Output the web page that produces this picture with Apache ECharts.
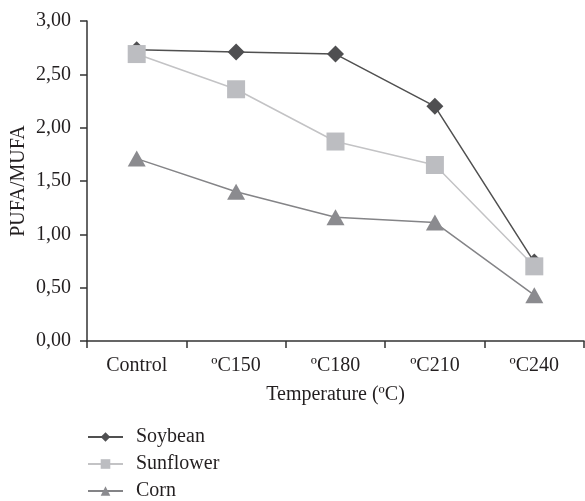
<!doctype html>
<html>
<head>
  <meta charset="utf-8">
  <title>PUFA/MUFA</title>
  <script src="https://cdn.jsdelivr.net/npm/echarts@6/dist/echarts.min.js"></script>
  <style>
    html, body { margin: 0; padding: 0; background: #fff; }
    #main { width: 585px; height: 501px; }
  </style>
</head>
<body>
<div id="main"></div>
<script type="text/javascript">
  var categories = ['Control', 'ºC150', 'ºC180', 'ºC210', 'ºC240'];
  var soybean = [2.73, 2.71, 2.69, 2.20, 0.74];
  var sunflower = [2.69, 2.36, 1.87, 1.65, 0.70];
  var corn = [1.71, 1.40, 1.16, 1.11, 0.43];

  var font = 'Liberation Serif';
  var fs = 20;
  var comma = function (v) { return v.toFixed(2).replace('.', ','); };

  var myChart = echarts.init(document.getElementById('main'));

  function mkSeries(name, data, symbol, size, lineColor, markColor, z) {
    return {
      name: name,
      type: 'line',
      data: data,
      symbol: symbol,
      symbolSize: size,
      showAllSymbol: true,
      z: z,
      lineStyle: { color: lineColor, width: 1.5 },
      itemStyle: { color: markColor },
      emphasis: { disabled: true }
    };
  }

  var option = {
    animation: false,
    backgroundColor: '#fff',
    textStyle: { fontFamily: font },
    grid: { left: 87, right: 1, top: 21, bottom: 160, outerBoundsMode: 'none', containLabel: false },
    legend: {
      orient: 'vertical',
      left: 82,
      top: 422,
      height: 100,
      itemGap: 7,
      itemWidth: 35,
      itemHeight: 12,
      textStyle: { fontFamily: font, fontSize: fs, color: '#231f20', padding: [0, 0, 0, 8] },
      data: ['Soybean', 'Sunflower', 'Corn']
    },
    xAxis: {
      type: 'category',
      data: categories,
      name: 'Temperature (ºC)',
      nameLocation: 'middle',
      nameGap: 44,
      nameMoveOverlap: false,
      nameTextStyle: { fontFamily: font, fontSize: fs, color: '#231f20' },
      axisLine: { lineStyle: { color: '#333', width: 1.5 } },
      axisTick: { show: true, length: 7, lineStyle: { color: '#333', width: 1.5 } },
      axisLabel: { fontFamily: font, fontSize: fs, color: '#231f20', margin: 15 }
    },
    yAxis: {
      type: 'value',
      min: 0,
      max: 3,
      interval: 0.5,
      name: 'PUFA/MUFA',
      nameLocation: 'middle',
      nameGap: 58,
      nameMoveOverlap: false,
      nameTextStyle: { fontFamily: font, fontSize: fs, color: '#231f20' },
      splitLine: { show: false },
      axisLine: { show: true, lineStyle: { color: '#333', width: 1.5 } },
      axisTick: { show: true, length: 7, lineStyle: { color: '#333', width: 1.5 } },
      axisLabel: { fontFamily: font, fontSize: fs, color: '#231f20', margin: 16, formatter: comma }
    },
    series: [
      mkSeries('Soybean', soybean, 'diamond', [17, 17], '#505050', '#4f4f51', 3),
      mkSeries('Sunflower', sunflower, 'rect', [18, 18], '#c3c3c5', '#bcbdc1', 4),
      mkSeries('Corn', corn, 'triangle', [18, 16], '#848487', '#8b8b8f', 5)
    ]
  };
  myChart.setOption(option);
</script>
</body>
</html>
